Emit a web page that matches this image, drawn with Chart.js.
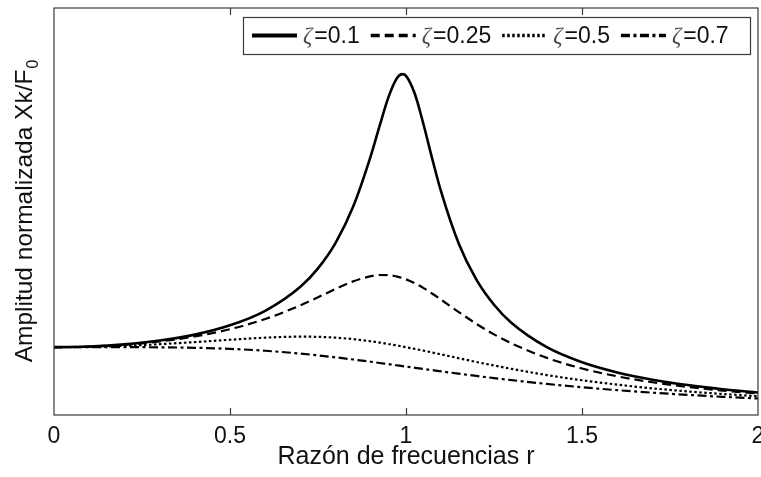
<!DOCTYPE html>
<html>
<head>
<meta charset="utf-8">
<script src="https://cdn.jsdelivr.net/npm/chart.js@4"></script>
<style>
  html, body { margin: 0; padding: 0; background: #fff; }
  #wrap { width: 761px; height: 477px; }
</style>
</head>
<body>
<div id="wrap"><canvas id="chart"></canvas></div>
<script>
// frequency ratio r (x values)
const ratio = [0, 0.1, 0.2, 0.3, 0.4, 0.5, 0.6, 0.7, 0.75, 0.8, 0.85, 0.9, 0.925, 0.95, 0.975, 0.99, 1.0,
  1.025, 1.05, 1.075, 1.1, 1.15, 1.2, 1.25, 1.3, 1.4, 1.5, 1.6, 1.7, 1.8, 1.9, 2.0];

// normalized amplitude
const zeta01 = [1, 1.01, 1.041, 1.097, 1.185, 1.322, 1.536, 1.891, 2.162, 2.538, 3.073, 3.821, 4.261, 4.683, 4.971, 5.025, 5.0,
  4.736, 4.279, 3.768, 3.288, 2.525, 1.995, 1.625, 1.356, 1.0, 0.778, 0.628, 0.521, 0.441, 0.379, 0.330];
const zeta025 = [1, 1.009, 1.036, 1.084, 1.158, 1.265, 1.415, 1.617, 1.736, 1.858, 1.970, 2.047, 2.064, 2.062, 2.041, 2.019, 2.0,
  1.942, 1.870, 1.787, 1.699, 1.517, 1.344, 1.189, 1.055, 0.842, 0.686, 0.570, 0.483, 0.414, 0.360, 0.316];
const zeta05 = [1, 1.005, 1.020, 1.044, 1.075, 1.109, 1.140, 1.155, 1.152, 1.140, 1.118, 1.087, 1.068, 1.047, 1.024, 1.010, 1.0,
  0.974, 0.948, 0.921, 0.893, 0.837, 0.782, 0.730, 0.680, 0.589, 0.512, 0.448, 0.393, 0.348, 0.310, 0.277];
const zeta07 = [1, 1.0, 1.0, 0.998, 0.991, 0.975, 0.947, 0.905, 0.879, 0.850, 0.818, 0.785, 0.767, 0.750, 0.732, 0.721, 0.714,
  0.696, 0.679, 0.661, 0.643, 0.609, 0.576, 0.544, 0.514, 0.458, 0.409, 0.366, 0.329, 0.297, 0.268, 0.244];

const xTicks = [0, 0.5, 1, 1.5, 2];
const labels = ['=0.1', '=0.25', '=0.5', '=0.7'];

const styles = [
  { dash: [], width: 2.6, legendWidth: 4 },
  { dash: [9, 5], width: 2.2, legendWidth: 3.5 },
  { dash: [2.5, 2.5], width: 2.2, legendWidth: 3.5 },
  { dash: [9, 3.5, 3, 3.5], width: 2.2, legendWidth: 3.5 }
];

const toPoints = ys => ratio.map((x, i) => ({ x, y: ys[i] }));
const series = [zeta01, zeta025, zeta05, zeta07];

const FONT = '"Liberation Sans", Arial, sans-serif';

// frame, inward ticks, y title with subscript and the boxed legend
const decorations = {
  id: 'decorations',
  afterDraw(chart) {
    const { ctx, chartArea: a, scales } = chart;
    ctx.save();
    ctx.strokeStyle = '#3a3a3a';
    ctx.lineWidth = 1.2;
    ctx.setLineDash([]);
    ctx.strokeRect(a.left, a.top, a.right - a.left, a.bottom - a.top);
    xTicks.slice(1, -1).forEach(v => {
      const px = Math.round(scales.x.getPixelForValue(v)) + 0.5;
      ctx.beginPath();
      ctx.moveTo(px, a.bottom); ctx.lineTo(px, a.bottom - 7);
      ctx.moveTo(px, a.top); ctx.lineTo(px, a.top + 7);
      ctx.stroke();
    });

    // y title
    ctx.fillStyle = '#111';
    ctx.translate(32, (a.top + a.bottom) / 2);
    ctx.rotate(-Math.PI / 2);
    const main = 'Amplitud normalizada Xk/F';
    ctx.font = '24.5px ' + FONT;
    const wMain = ctx.measureText(main).width;
    ctx.font = '16px ' + FONT;
    const wSub = ctx.measureText('0').width;
    const start = -(wMain + wSub) / 2;
    ctx.font = '24.5px ' + FONT;
    ctx.textBaseline = 'alphabetic';
    ctx.fillText(main, start, 0);
    ctx.font = '16px ' + FONT;
    ctx.fillText('0', start + wMain + 1, 6);
    ctx.setTransform(1, 0, 0, 1, 0, 0);

    // legend
    const box = { left: 243, top: 17, right: 750, bottom: 54 };
    ctx.fillStyle = '#fff';
    ctx.fillRect(box.left, box.top, box.right - box.left, box.bottom - box.top);
    ctx.strokeStyle = '#3a3a3a';
    ctx.lineWidth = 1.2;
    ctx.strokeRect(box.left + 0.5, box.top + 0.5, box.right - box.left, box.bottom - box.top);
    let x = box.left + 9;
    const cy = (box.top + box.bottom) / 2;
    labels.forEach((lab, i) => {
      ctx.strokeStyle = '#000';
      ctx.lineWidth = styles[i].legendWidth;
      ctx.setLineDash(styles[i].dash);
      ctx.beginPath();
      ctx.moveTo(x, cy); ctx.lineTo(x + 45, cy);
      ctx.stroke();
      ctx.setLineDash([]);
      x += 51;
      ctx.fillStyle = '#4a4a4a';
      ctx.font = 'italic 23px "Liberation Serif", "DejaVu Serif", serif';
      ctx.textBaseline = 'middle';
      ctx.fillText('ζ', x, cy + 1);
      x += ctx.measureText('ζ').width + 2;
      ctx.fillStyle = '#111';
      ctx.font = '23px ' + FONT;
      ctx.fillText(lab, x, cy + 1);
      x += ctx.measureText(lab).width + 11;
    });
    ctx.restore();
  }
};

new Chart(document.getElementById('chart'), {
  type: 'line',
  data: {
    datasets: series.map((ys, i) => ({
      label: 'ζ' + labels[i],
      data: toPoints(ys),
      borderColor: '#000',
      borderWidth: styles[i].width,
      borderDash: styles[i].dash,
      pointRadius: 0,
      fill: false,
      cubicInterpolationMode: 'monotone'
    }))
  },
  options: {
    responsive: true,
    maintainAspectRatio: false,
    animation: false,
    layout: { padding: { left: 54, right: 3, top: 8, bottom: 0 } },
    plugins: { legend: { display: false }, tooltip: { enabled: false } },
    scales: {
      x: {
        type: 'linear', min: 0, max: 2,
        afterBuildTicks: s => { s.ticks = xTicks.map(v => ({ value: v })); },
        afterFit: s => { s.paddingRight = 0; s.paddingLeft = 0; s.height = 62; },
        grid: { display: false, drawTicks: false },
        border: { display: false },
        ticks: { color: '#111', font: { family: FONT, size: 23, lineHeight: 1 }, padding: 10, maxRotation: 0,
          callback: v => String(v) },
        title: { display: true, text: 'Razón de frecuencias r', color: '#111',
          font: { family: FONT, size: 25, lineHeight: 1 }, padding: { top: 2, bottom: 7 } }
      },
      y: {
        display: false, min: 0, max: 6
      }
    }
  },
  plugins: [decorations]
});
</script>
</body>
</html>
